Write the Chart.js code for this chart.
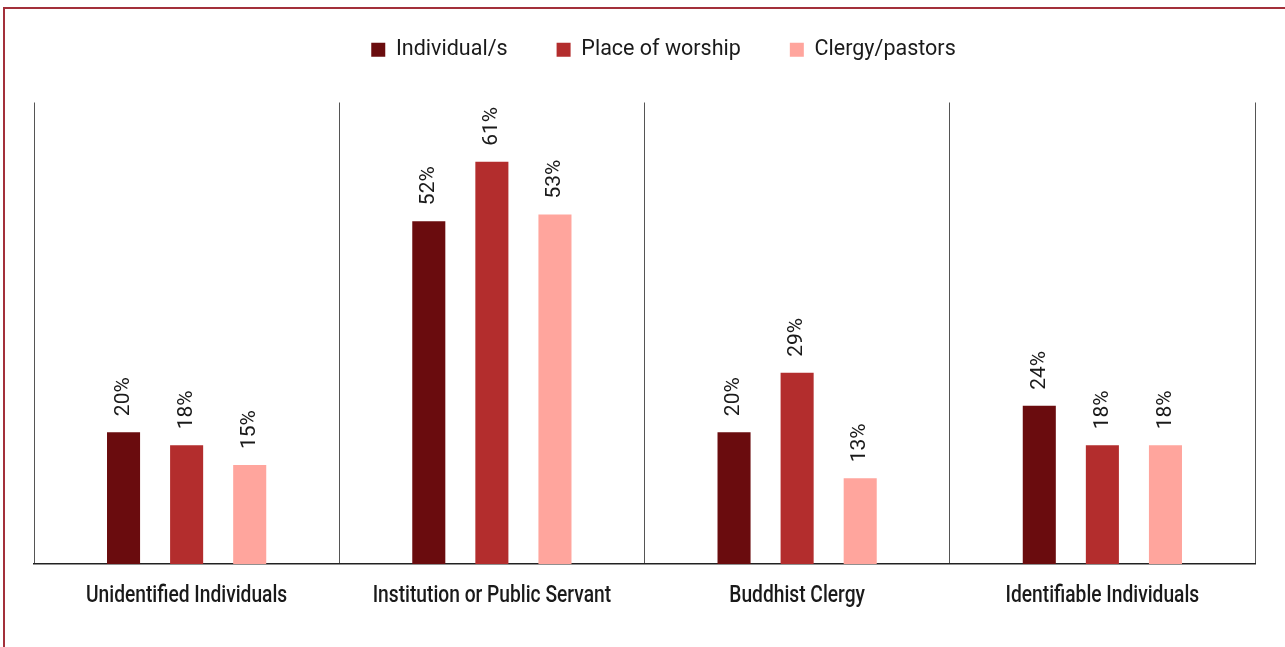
<!DOCTYPE html>
<html>
<head>
<meta charset="utf-8">
<script src="https://cdn.jsdelivr.net/npm/chart.js@4"></script>
<style>
  html, body { margin: 0; padding: 0; background: #fff; overflow: hidden; }
  .frame {
    position: absolute;
    left: 3px;
    top: 7px;
    width: 1400px;
    height: 800px;
    border-left: 2px solid #a3303a;
    border-top: 2px solid #a3303a;
  }
  .chart-wrap { position: absolute; left: 0; top: 0; width: 1285px; height: 647px; }
</style>
</head>
<body>
<div class="frame"></div>
<div class="chart-wrap"><canvas id="chart" width="1285" height="647"></canvas></div>
<script>
const categories = ["Unidentified Individuals", "Institution or Public Servant", "Buddhist Clergy", "Identifiable Individuals"];
const individuals = [20, 52, 20, 24];
const placeOfWorship = [18, 61, 29, 18];
const clergyPastors = [15, 53, 13, 18];

const LEGEND_EXTRA = 22;
const LEGEND_SHIFT_Y = 10;
const LEGEND_SHIFT_X = 19;
const TICK_STRETCH = 0.8;

// extra room under the legend, and nudge the legend row into place
const legendGap = {
  id: "legendGap",
  beforeInit(chart) {
    const originalFit = chart.legend.fit;
    chart.legend.fit = function fit() {
      originalFit.bind(chart.legend)();
      this.height += LEGEND_EXTRA;
    };
  },
  afterLayout(chart) {
    chart.legend.top -= LEGEND_SHIFT_Y;
    chart.legend.bottom -= LEGEND_SHIFT_Y;
    chart.legend.left += LEGEND_SHIFT_X;
    chart.legend.right += LEGEND_SHIFT_X;
  }
};

// rotated percentage labels above each bar
const barValueLabels = {
  id: "barValueLabels",
  afterDatasetsDraw(chart) {
    const ctx = chart.ctx;
    ctx.save();
    ctx.fillStyle = "#1a1a1a";
    ctx.font = "21px Roboto";
    ctx.textAlign = "left";
    ctx.textBaseline = "middle";
    chart.data.datasets.forEach((dataset, i) => {
      chart.getDatasetMeta(i).data.forEach((bar, j) => {
        ctx.save();
        ctx.translate(bar.x, bar.y - 16);
        ctx.rotate(-Math.PI / 2);
        ctx.fillText(`${dataset.data[j]}%`, 0, 0);
        ctx.restore();
      });
    });
    ctx.restore();
  }
};

// category names under the axis, in a narrowed face
const categoryLabels = {
  id: "categoryLabels",
  afterDraw(chart) {
    const ctx = chart.ctx;
    const xScale = chart.scales.x;
    ctx.save();
    ctx.fillStyle = "#1a1a1a";
    ctx.font = "500 24px Roboto";
    ctx.textAlign = "center";
    ctx.textBaseline = "alphabetic";
    chart.data.labels.forEach((label, i) => {
      ctx.save();
      ctx.translate(xScale.getPixelForValue(i), 602);
      ctx.scale(TICK_STRETCH, 1);
      ctx.fillText(label, 0, 0);
      ctx.restore();
    });
    ctx.restore();
  }
};

new Chart(document.querySelector("#chart"), {
  type: "bar",
  data: {
    labels: categories,
    datasets: [
      { label: "Individual/s", data: individuals, backgroundColor: "#6a0c0e" },
      { label: "Place of worship", data: placeOfWorship, backgroundColor: "#b32d2d" },
      { label: "Clergy/pastors", data: clergyPastors, backgroundColor: "#ffa59d" }
    ]
  },
  options: {
    responsive: false,
    animation: false,
    categoryPercentage: 0.62,
    barPercentage: 0.524,
    layout: { padding: { left: 34, right: 30, top: 0, bottom: 83 } },
    plugins: {
      legend: {
        labels: {
          boxWidth: 14,
          boxHeight: 14,
          padding: 49,
          color: "#1a1a1a",
          font: { family: "Roboto", size: 21.5 }
        }
      },
      tooltip: { enabled: false }
    },
    scales: {
      x: {
        grid: { offset: true, color: "#555", lineWidth: 1, drawTicks: false },
        border: { color: "#222", width: 1.5 },
        ticks: { display: false }
      },
      y: { display: false, min: 0, max: 70 }
    }
  },
  plugins: [legendGap, barValueLabels, categoryLabels]
});
</script>
</body>
</html>
